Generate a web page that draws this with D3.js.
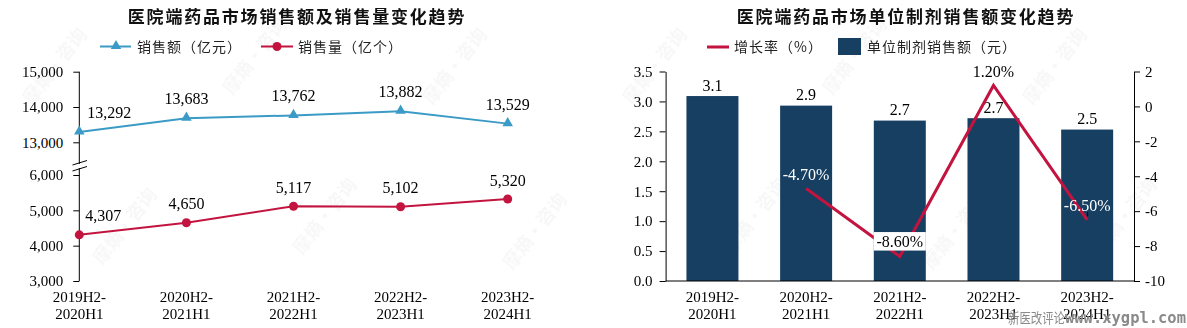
<!DOCTYPE html>
<html>
<head>
<meta charset="utf-8">
<script src="https://cdn.jsdelivr.net/npm/d3@7"></script>
<style>
  html, body { margin: 0; padding: 0; background: #fff; }
  svg { display: block; }
  .num { font-family: "Liberation Serif", "Times New Roman", serif; }
  .cjk { font-family: "Noto Sans CJK SC", sans-serif; }
</style>
</head>
<body>
<svg id="chart" width="1187" height="328"></svg>
<script>
// ---- data ----
const periodsTop = ["2019H2-", "2020H2-", "2021H2-", "2022H2-", "2023H2-"];
const periodsBottom = ["2020H1", "2021H1", "2022H1", "2023H1", "2024H1"];
const categories = periodsTop.map((d, i) => d + periodsBottom[i]);

const salesAmount = [13292, 13683, 13762, 13882, 13529];   // 亿元
const salesVolume = [4307, 4650, 5117, 5102, 5320];        // 亿个
const unitPrice = [3.09, 2.93, 2.68, 2.72, 2.53];          // 元
const growthRate = [null, -4.7, -8.6, 1.2, -6.5];          // %

const upperTicks = [13000, 14000, 15000];
const lowerTicks = [3000, 4000, 5000, 6000];
const priceTicks = [0, 0.5, 1.0, 1.5, 2.0, 2.5, 3.0, 3.5];
const rateTicks = [-10, -8, -6, -4, -2, 0, 2];

const BLUE = "#3b9bc6", RED = "#c2143f", NAVY = "#173f62";

const svg = d3.select("#chart");

// faint background marks
const wm = svg.append("g").attr("class", "cjk").attr("fill", "#000").attr("opacity", 0.035)
  .attr("font-size", 18).attr("font-weight", 700);
[[60, 70], [260, 60], [460, 70], [660, 70], [860, 60], [1060, 70],
 [130, 230], [330, 220], [540, 235], [760, 220], [960, 235], [1130, 220]].forEach(([x, y]) => {
  wm.append("text").attr("transform", `translate(${x},${y}) rotate(-52)`)
    .attr("text-anchor", "middle").text("摩熵·咨询");
});

// ================= left chart: sales amount & volume =================
const xL = d3.scalePoint().domain(categories).range([79.3, 507.7]);
const yUp = d3.scaleLinear().domain([13000, 15000]).range([142.3, 71.7]);
const yLo = d3.scaleLinear().domain([3000, 6000]).range([281, 175]);
const fmtK = d3.format(",");

svg.append("text").attr("class", "cjk").attr("x", 297).attr("y", 23)
  .attr("text-anchor", "middle").attr("font-size", 17).attr("font-weight", 700)
  .attr("letter-spacing", 1.8).attr("fill", "#111")
  .text("医院端药品市场销售额及销售量变化趋势");

// legend
const legL = svg.append("g");
legL.append("line").attr("x1", 100).attr("x2", 131).attr("y1", 46.5).attr("y2", 46.5)
  .attr("stroke", BLUE).attr("stroke-width", 2);
legL.append("path").attr("d", d3.symbol(d3.symbolTriangle, 48)())
  .attr("transform", "translate(116,46)").attr("fill", BLUE);
legL.append("text").attr("class", "cjk").attr("x", 137).attr("y", 51.5)
  .attr("font-size", 14).attr("letter-spacing", 1).attr("fill", "#222").text("销售额（亿元）");
legL.append("line").attr("x1", 261).attr("x2", 293).attr("y1", 46.5).attr("y2", 46.5)
  .attr("stroke", RED).attr("stroke-width", 2);
legL.append("circle").attr("cx", 277).attr("cy", 46.5).attr("r", 4.5).attr("fill", RED);
legL.append("text").attr("class", "cjk").attr("x", 298).attr("y", 51.5)
  .attr("font-size", 14).attr("letter-spacing", 1).attr("fill", "#222").text("销售量（亿个）");

// y axes (broken)
const axUp = svg.append("g").attr("transform", "translate(79.3,0)")
  .call(d3.axisLeft(yUp).tickValues(upperTicks).tickFormat(fmtK).tickSize(6).tickPadding(10).tickSizeOuter(0));
const axLo = svg.append("g").attr("transform", "translate(79.3,0)")
  .call(d3.axisLeft(yLo).tickValues(lowerTicks).tickFormat(fmtK).tickSize(6).tickPadding(10).tickSizeOuter(0));
[axUp, axLo].forEach(ax => {
  ax.select(".domain").remove();
  ax.selectAll(".tick line").attr("stroke", "#000");
  ax.selectAll(".tick text").attr("class", "num").attr("font-size", 15).attr("fill", "#000");
});
svg.append("line").attr("x1", 79.3).attr("x2", 79.3).attr("y1", yUp(15000)).attr("y2", 164)
  .attr("stroke", "#000");
svg.append("line").attr("x1", 79.3).attr("x2", 79.3).attr("y1", 168).attr("y2", yLo(3000))
  .attr("stroke", "#000");
[[72.5, 165, 87, 160.5], [72.5, 171, 87, 166.5]].forEach(([a, b, c, d]) => {
  svg.append("line").attr("x1", a).attr("y1", b).attr("x2", c).attr("y2", d)
    .attr("stroke", "#000").attr("stroke-width", 1);
});

// x labels
const xlL = svg.append("g").attr("class", "num").attr("font-size", 15).attr("fill", "#000");
categories.forEach((c, i) => {
  const t = xlL.append("text").attr("x", xL(c)).attr("text-anchor", "middle");
  t.append("tspan").attr("x", xL(c)).attr("y", 301.5).text(periodsTop[i]);
  t.append("tspan").attr("x", xL(c)).attr("y", 318.5).text(periodsBottom[i]);
});

// sales amount line
const lineUp = d3.line().x((d, i) => xL(categories[i])).y(d => yUp(d));
svg.append("path").attr("d", lineUp(salesAmount)).attr("fill", "none")
  .attr("stroke", BLUE).attr("stroke-width", 2);
svg.selectAll(".tri").data(salesAmount).join("path")
  .attr("d", d3.symbol(d3.symbolTriangle, 48)())
  .attr("transform", (d, i) => `translate(${xL(categories[i])},${yUp(d) - 0.5})`)
  .attr("fill", BLUE);
svg.selectAll(".lblUp").data(salesAmount).join("text").attr("class", "num")
  .attr("x", (d, i) => i === 0 ? xL(categories[i]) + 8 : xL(categories[i]))
  .attr("y", d => yUp(d) - 14)
  .attr("text-anchor", (d, i) => i === 0 ? "start" : "middle")
  .attr("font-size", 16).attr("fill", "#000").text(d => fmtK(d));

// sales volume line
const lineLo = d3.line().x((d, i) => xL(categories[i])).y(d => yLo(d));
svg.append("path").attr("d", lineLo(salesVolume)).attr("fill", "none")
  .attr("stroke", RED).attr("stroke-width", 2);
svg.selectAll(".dot").data(salesVolume).join("circle")
  .attr("cx", (d, i) => xL(categories[i])).attr("cy", d => yLo(d)).attr("r", 4.5)
  .attr("fill", RED);
svg.selectAll(".lblLo").data(salesVolume).join("text").attr("class", "num")
  .attr("x", (d, i) => i === 0 ? xL(categories[i]) + 6 : xL(categories[i]))
  .attr("y", d => yLo(d) - 13.5)
  .attr("text-anchor", (d, i) => i === 0 ? "start" : "middle")
  .attr("font-size", 16).attr("fill", "#000").text(d => fmtK(d));

// ================= right chart: unit price & growth =================
const xR = d3.scaleBand().domain(categories).range([665.6, 1134]).paddingInner(0.445).paddingOuter(0.2225);
const yP = d3.scaleLinear().domain([0, 3.5]).range([281, 71.5]);
const yG = d3.scaleLinear().domain([-10, 2]).range([281, 71.5]);
const cx = c => xR(c) + xR.bandwidth() / 2;

svg.append("text").attr("class", "cjk").attr("x", 906).attr("y", 23)
  .attr("text-anchor", "middle").attr("font-size", 17).attr("font-weight", 700)
  .attr("letter-spacing", 1.8).attr("fill", "#111")
  .text("医院端药品市场单位制剂销售额变化趋势");

// legend
const legR = svg.append("g");
legR.append("line").attr("x1", 707).attr("x2", 729).attr("y1", 47).attr("y2", 47)
  .attr("stroke", RED).attr("stroke-width", 3);
legR.append("text").attr("class", "cjk").attr("x", 734).attr("y", 52)
  .attr("font-size", 14).attr("letter-spacing", 1).attr("fill", "#222").text("增长率（%）");
legR.append("rect").attr("x", 838).attr("y", 38).attr("width", 23).attr("height", 17).attr("fill", NAVY);
legR.append("text").attr("class", "cjk").attr("x", 867).attr("y", 52)
  .attr("font-size", 14).attr("letter-spacing", 1).attr("fill", "#222").text("单位制剂销售额（元）");

// bars
svg.selectAll(".bar").data(unitPrice).join("rect")
  .attr("x", (d, i) => xR(categories[i])).attr("width", xR.bandwidth())
  .attr("y", d => yP(d)).attr("height", d => yP(0) - yP(d)).attr("fill", NAVY);
svg.selectAll(".barLbl").data(unitPrice).join("text").attr("class", "num")
  .attr("x", (d, i) => cx(categories[i])).attr("y", d => yP(d) - 5.5)
  .attr("text-anchor", "middle").attr("font-size", 16).attr("fill", "#000")
  .text(d => d.toFixed(1));

// axes
const axP = svg.append("g").attr("transform", "translate(665.6,0)")
  .call(d3.axisLeft(yP).tickValues(priceTicks).tickFormat(d => d.toFixed(1)).tickSize(6).tickPadding(7).tickSizeOuter(0));
const axG = svg.append("g").attr("transform", "translate(1134,0)")
  .call(d3.axisRight(yG).tickValues(rateTicks).tickFormat(d => String(d)).tickSize(6).tickPadding(5).tickSizeOuter(0));
[axP, axG].forEach(ax => {
  ax.select(".domain").attr("stroke", "#000");
  ax.selectAll(".tick line").attr("stroke", "#000");
  ax.selectAll(".tick text").attr("class", "num").attr("font-size", 15).attr("fill", "#000");
});
svg.append("line").attr("x1", 665.6).attr("x2", 1134).attr("y1", yP(0)).attr("y2", yP(0))
  .attr("stroke", "#000");

const xlR = svg.append("g").attr("class", "num").attr("font-size", 15).attr("fill", "#000");
categories.forEach((c, i) => {
  const t = xlR.append("text").attr("text-anchor", "middle");
  t.append("tspan").attr("x", cx(c)).attr("y", 301.5).text(periodsTop[i]);
  t.append("tspan").attr("x", cx(c)).attr("y", 318.5).text(periodsBottom[i]);
});

// growth line
const rateLine = d3.line().defined(d => d !== null)
  .x((d, i) => cx(categories[i])).y(d => yG(d));
svg.append("path").attr("d", rateLine(growthRate)).attr("fill", "none")
  .attr("stroke", RED).attr("stroke-width", 3).attr("stroke-linejoin", "miter");

// growth labels
const rateFmt = d => d.toFixed(2) + "%";
const rateLbl = [
  null,
  { dy: -8.5, fill: "#fff", box: false },
  { dy: -10, fill: "#000", box: true },
  { dy: -8, fill: "#000", box: false },
  { dy: -8.5, fill: "#fff", box: false }
];
growthRate.forEach((v, i) => {
  if (v === null) return;
  const o = rateLbl[i];
  const x = cx(categories[i]);
  const y = yG(v) + o.dy;
  if (o.box) {
    svg.append("rect").attr("x", x - 26).attr("y", y - 14.5).attr("width", 52).attr("height", 18.5)
      .attr("fill", "#fff");
  }
  svg.append("text").attr("class", "num").attr("x", x).attr("y", y)
    .attr("text-anchor", "middle").attr("font-size", 16).attr("fill", o.fill).text(rateFmt(v));
});
// small leader under the last rate label
svg.append("line").attr("x1", cx(categories[4]) + 0.5).attr("x2", cx(categories[4]) + 0.5)
  .attr("y1", yG(-6.5) - 8).attr("y2", yG(-6.5) - 3.5).attr("stroke", "#000").attr("stroke-width", 1);

// source mark
svg.append("text").attr("class", "cjk").attr("x", 1008).attr("y", 323)
  .attr("font-size", 14).attr("fill", "#8a8a8a").attr("textLength", 57)
  .attr("lengthAdjust", "spacingAndGlyphs").text("新医改评论");
svg.append("text").attr("x", 1065).attr("y", 323)
  .attr("font-family", "DejaVu Sans Mono, monospace").attr("font-weight", 700)
  .attr("font-size", 15.5).attr("fill", "#8a8a8a").attr("textLength", 121)
  .attr("lengthAdjust", "spacingAndGlyphs").text("www.xygpl.com");
</script>
</body>
</html>
